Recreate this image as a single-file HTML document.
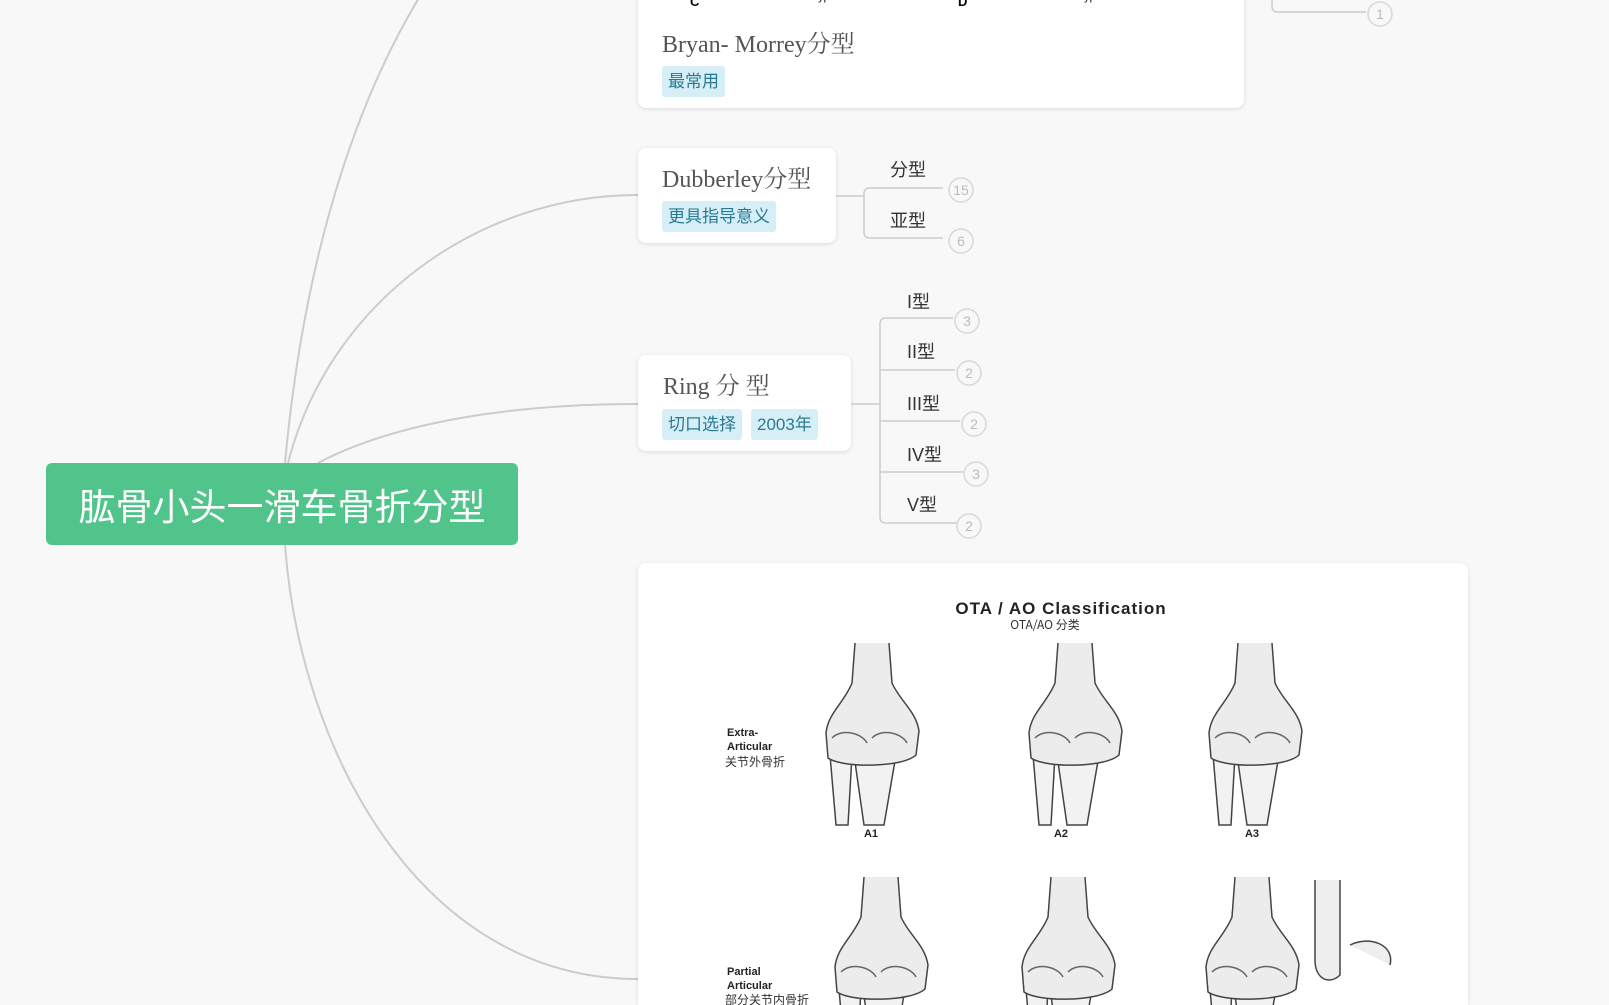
<!DOCTYPE html>
<html style="overflow:hidden;height:1005px"><head><meta charset="utf-8"><style>
body{margin:0;width:1609px;height:1005px;background:#f8f8f8;overflow:hidden;position:relative;font-family:"Liberation Sans","Noto Sans CJK SC",sans-serif}
.card{position:absolute;background:#fff;border-radius:8px;box-shadow:0 1px 4px rgba(0,0,0,.12)}
.t{position:absolute;white-space:nowrap}
.serif{font-family:"Liberation Serif","Noto Serif CJK SC",serif;color:#555}
.tag{position:absolute;background:#d6eff6;color:#2a7a93;border-radius:3px;font-size:17px;line-height:30px;padding:0 6px;white-space:nowrap}
.lbl{position:absolute;font-size:18px;color:#333;white-space:nowrap;line-height:20px}
</style></head><body>
<svg width="1609" height="1005" style="position:absolute;left:0;top:0" fill="none" stroke="#cccccc" stroke-width="2">
<path d="M285,463 C300,300 340,120 430,-20"/>
<path d="M288,463 C330,300 480,195 638,195"/>
<path d="M318,463 C400,420 520,404 638,404"/>
<path d="M285,545 C300,750 420,979 638,979"/>
<g stroke-width="1.5">
<path d="M836,196 H864 M943,188 H870 Q864,188 864,194 V232 Q864,238 870,238 H943"/>
<path d="M851,404 H880 M953,318 H886 Q880,318 880,324 V517 Q880,523 886,523 H958 M880,370 H955 M880,421 H960 M880,472 H963"/>
<path d="M1272,0 V6 Q1272,12 1278,12 H1366"/>
</g>
<g stroke="#d8d8d8" stroke-width="1.5" fill="#f8f8f8">
<circle cx="961" cy="190" r="12"/><circle cx="961" cy="241" r="12"/>
<circle cx="967" cy="321" r="12"/><circle cx="969" cy="373" r="12"/><circle cx="974" cy="424" r="12"/><circle cx="976" cy="474" r="12"/><circle cx="969" cy="526" r="12"/>
<circle cx="1380" cy="14" r="12"/>
</g>
<g fill="#bbb" stroke="none" font-size="14" text-anchor="middle" font-family="Liberation Sans">
<text x="961" y="195">15</text><text x="961" y="246">6</text>
<text x="967" y="326">3</text><text x="969" y="378">2</text><text x="974" y="429">2</text><text x="976" y="479">3</text><text x="969" y="531">2</text>
<text x="1380" y="19">1</text>
</g>
</svg>
<div class="card" style="left:638px;top:-10px;width:606px;height:118px"></div>
<div class="t" style="left:690px;top:-6px;font-size:13px;font-weight:bold">C</div>
<div class="t" style="left:812px;top:-9px;font-size:11px">Type III</div>
<div class="t" style="left:958px;top:-6px;font-size:13px;font-weight:bold">D</div>
<div class="t" style="left:1078px;top:-9px;font-size:11px">Type IV</div>
<div class="t serif" style="left:662px;top:24px;font-size:24px">Bryan- Morrey分型</div>
<div class="tag" style="left:662px;top:66px;line-height:31px">最常用</div>

<div class="card" style="left:638px;top:148px;width:198px;height:95px"></div>
<div class="t serif" style="left:662px;top:159px;font-size:24px">Dubberley分型</div>
<div class="tag" style="left:662px;top:201px;line-height:31px">更具指导意义</div>
<div class="lbl" style="left:890px;top:160px">分型</div>
<div class="lbl" style="left:890px;top:211px">亚型</div>

<div class="card" style="left:638px;top:355px;width:213px;height:96px"></div>
<div class="t serif" style="left:663px;top:366px;font-size:24px">Ring 分 型</div>
<div class="tag" style="left:662px;top:409px;line-height:31px">切口选择</div>
<div class="tag" style="left:751px;top:409px;line-height:31px">2003年</div>
<div class="lbl" style="left:907px;top:292px">I型</div>
<div class="lbl" style="left:907px;top:342px">II型</div>
<div class="lbl" style="left:907px;top:394px">III型</div>
<div class="lbl" style="left:907px;top:445px">IV型</div>
<div class="lbl" style="left:907px;top:495px">V型</div>

<div style="position:absolute;left:46px;top:463px;width:472px;height:82px;background:#50c48b;border-radius:6px;color:#fff;font-size:37px;line-height:82px;text-align:center;font-family:'Noto Sans CJK SC',sans-serif">肱骨小头一滑车骨折分型</div>

<div class="card" style="left:638px;top:563px;width:830px;height:442px;border-radius:8px 8px 0 0"></div>
<svg width="1609" height="1005" style="position:absolute;left:0;top:0">
<defs>
<g id="bone" stroke="#444" stroke-width="1.5" fill="#f2f2f2">
<path d="M-42,112 L-20,112 L-24,182 L-36,182 Z"/>
<path d="M-18,112 L24,112 L12,182 L-8,182 Z"/>
<path d="M-17,0 L-20,40 C-28,60 -44,70 -46,90 L-44,115 C-30,125 30,125 44,112 L47,88 C44,68 28,58 20,40 L17,0" fill="#ececec"/>
<path d="M-40,95 C-30,85 -10,90 -5,100 M0,95 C10,85 30,90 35,100" fill="none" stroke="#666"/>
</g>
</defs>
<use href="#bone" x="872" y="643"/>
<use href="#bone" x="1075" y="643"/>
<use href="#bone" x="1255" y="643"/>
<use href="#bone" x="881" y="877"/>
<use href="#bone" x="1068" y="877"/>
<use href="#bone" x="1252" y="877"/>
<path d="M1315,880 V960 C1315,980 1330,985 1340,975 V880 M1350,945 C1370,935 1395,945 1390,965" stroke="#444" stroke-width="1.5" fill="#eee"/>
<g font-family="Liberation Sans" font-weight="bold" fill="#222" font-size="11">
<text x="871" y="837" text-anchor="middle">A1</text><text x="1061" y="837" text-anchor="middle">A2</text><text x="1252" y="837" text-anchor="middle">A3</text>
<text x="727" y="736">Extra-</text><text x="727" y="750">Articular</text>
<text x="727" y="975">Partial</text><text x="727" y="989">Articular</text>
</g>
<g font-family="Noto Sans CJK SC" fill="#333" font-size="12">
<text x="725" y="766">关节外骨折</text><text x="725" y="1004">部分关节内骨折</text>
<text x="1045" y="629" text-anchor="middle">OTA/AO 分类</text>
</g>
<text x="1061" y="614" text-anchor="middle" font-family="Liberation Sans" font-weight="bold" font-size="17" letter-spacing="1" fill="#222">OTA / AO  Classification</text>
</svg>
</body></html>
